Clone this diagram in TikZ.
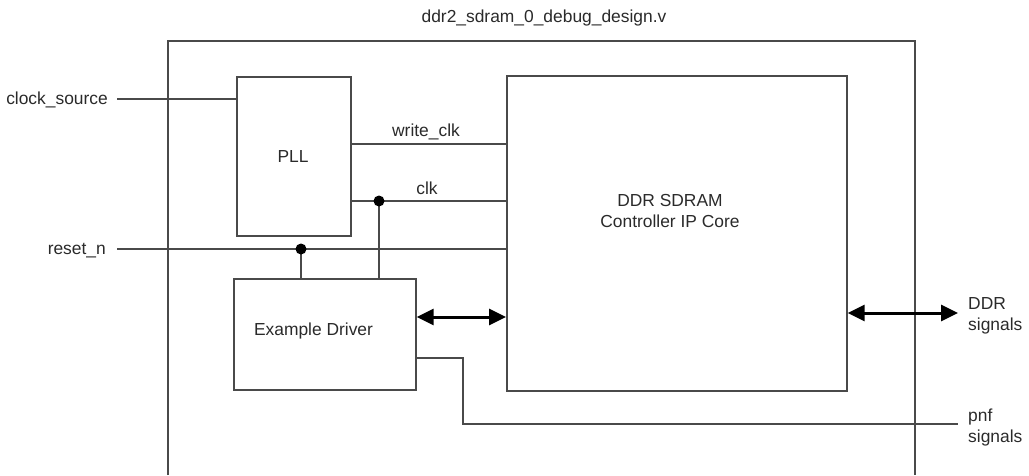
\documentclass[tikz,border=0pt]{standalone}
\usepackage{fontspec}
\setmainfont{Liberation Sans}
\usetikzlibrary{arrows.meta}
\definecolor{ln}{HTML}{4a4a4a}
\definecolor{tx}{HTML}{2a2a2a}
\begin{document}
\begin{tikzpicture}[x=1pt,y=-1pt,
  every node/.style={font=\fontsize{17.4}{21}\selectfont, text=tx},
  blk/.style={draw=ln, line width=1.7pt, inner sep=0pt, anchor=north west},
  wire/.style={draw=ln, line width=1.7pt},
  bus/.style={draw=black, line width=3pt, {Triangle[length=17pt,width=16pt]}-{Triangle[length=17pt,width=16pt]}},
  jdot/.style={circle, fill=black, inner sep=0pt, minimum size=11pt},
  lbl/.style={inner sep=0pt}]
\useasboundingbox (0,0) rectangle (1029,475);
% outer design box (open at the bottom)
\draw[wire] (168,475) -- (168,41) -- (915,41) -- (915,475);
\node[lbl, anchor=base] (title) at (544,22) {ddr2\_sdram\_0\_debug\_design.v};
% blocks
\node[blk, minimum width=114pt, minimum height=159pt] (pll) at (236,76) {};
\node[lbl, anchor=base] (plltxt) at (293,162) {PLL};
\node[blk, minimum width=340pt, minimum height=315pt] (ddr) at (506,75) {};
\node[lbl, anchor=north, align=center] (ddrtxt) at (670,194) {DDR SDRAM\\Controller IP Core};
\node[blk, minimum width=182pt, minimum height=111pt] (drv) at (233,278) {};
\node[lbl, anchor=base] (drvtxt) at (313.5,335) {Example Driver};
% left labels
\node[lbl, anchor=base east] (cs) at (108,104) {clock\_source};
\node[lbl, anchor=base east] (rst) at (106,254.5) {reset\_n};
% right labels
\node[lbl, anchor=west, align=left] (ddrsig) at (968,316) {DDR\\signals};
\node[lbl, anchor=west, align=left] (pnfsig) at (968,427.5) {pnf\\signals};
% coordinates
\coordinate (csw) at (117,99);
\coordinate (wclky) at (0,144);
\coordinate (clkdot) at (379,201);
\coordinate (rsw) at (117,249);
\coordinate (rsdot) at (301,249);
\coordinate (busy) at (0,317);
\coordinate (ddrend) at (958,313);
\coordinate (pnfa) at (0,358);
\coordinate (pnfb) at (463,424);
\coordinate (pnfend) at (958,424);
% wires
\draw[wire] (csw) -- (csw -| pll.west);
\draw[wire] (pll.east |- wclky) -- (ddr.west |- wclky);
\node[lbl, anchor=base] (wclk) at (426,136) {write\_clk};
\draw[wire] (pll.east |- clkdot) -- (ddr.west |- clkdot);
\node[lbl, anchor=base] (clk) at (427,194) {clk};
\draw[wire] (clkdot) -- (clkdot |- drv.north);
\node[jdot] (d1) at (clkdot) {};
\draw[wire] (rsw) -- (ddr.west |- rsw);
\draw[wire] (rsdot) -- (rsdot |- drv.north);
\node[jdot] (d2) at (rsdot) {};
\draw[bus] (drv.east |- busy) -- (ddr.west |- busy);
\draw[bus] (ddr.east |- ddrend) -- (ddrend);
\draw[wire] (drv.east |- pnfa) -- (pnfb |- pnfa) -- (pnfb) -- (pnfend);
\end{tikzpicture}
\end{document}
